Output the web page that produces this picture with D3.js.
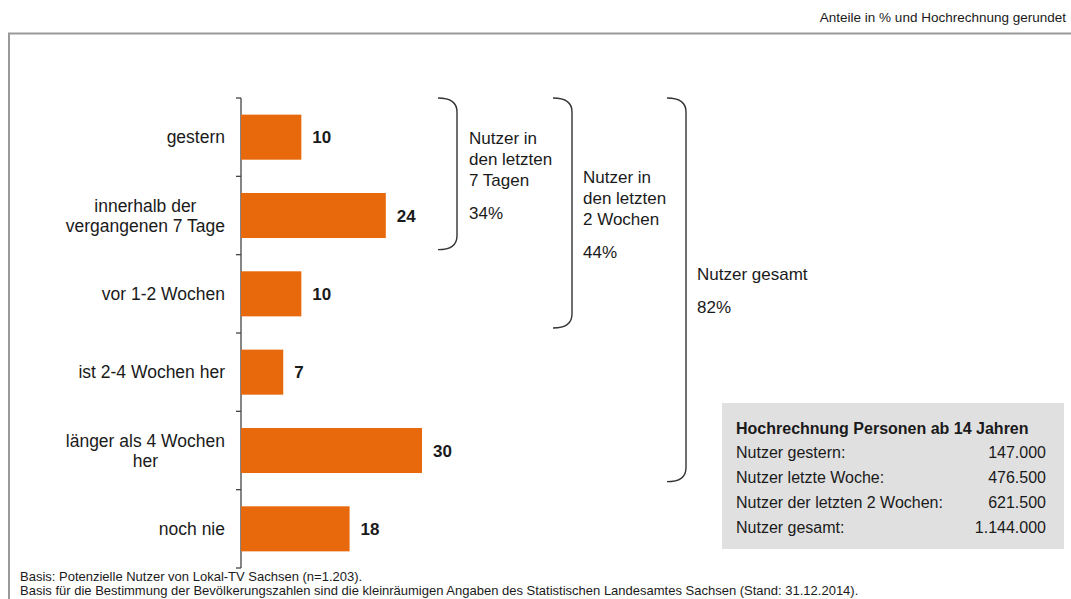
<!DOCTYPE html>
<html>
<head>
<meta charset="utf-8">
<script src="https://cdn.jsdelivr.net/npm/d3@7"></script>
<style>
  html, body { margin: 0; padding: 0; background: #fff; }
  svg { display: block; font-family: "Liberation Sans", Arial, sans-serif; }
</style>
</head>
<body>
<svg id="chart" width="1071" height="599"></svg>
<script>
// Nutzungsfrequenz Lokal-TV Sachsen
const categories = [
  ["gestern"],
  ["innerhalb der", "vergangenen 7 Tage"],
  ["vor 1-2 Wochen"],
  ["ist 2-4 Wochen her"],
  ["länger als 4 Wochen", "her"],
  ["noch nie"]
];
const values = [10, 24, 10, 7, 30, 18];

// Klammern: Anzahl der zusammengefassten Kategorien, Beschriftung, Anteil
const groupCounts = [2, 3, 5];
const groupLabels = [
  ["Nutzer in", "den letzten", "7 Tagen"],
  ["Nutzer in", "den letzten", "2 Wochen"],
  ["Nutzer gesamt"]
];
const groupShares = ["34%", "44%", "82%"];

// Hochrechnung
const boxTitle = "Hochrechnung Personen ab 14 Jahren";
const boxRows = ["Nutzer gestern:", "Nutzer letzte Woche:", "Nutzer der letzten 2 Wochen:", "Nutzer gesamt:"];
const boxValues = ["147.000", "476.500", "621.500", "1.144.000"];

const noteText = "Anteile in % und Hochrechnung gerundet";
const footnotes = [
  "Basis: Potenzielle Nutzer von Lokal-TV Sachsen (n=1.203).",
  "Basis für die Bestimmung der Bevölkerungszahlen sind die kleinräumigen Angaben des Statistischen Landesamtes Sachsen (Stand: 31.12.2014)."
];

const svg = d3.select("#chart");
const ORANGE = "#e8690c";
const TEXT = "#1a1a1a";

// Rahmen
svg.append("path")
  .attr("d", "M9,599 V33.5 H1071")
  .attr("fill", "none")
  .attr("stroke", "#9a9a9a")
  .attr("stroke-width", 2);

svg.append("text")
  .attr("x", 1066).attr("y", 22)
  .attr("text-anchor", "end")
  .attr("font-size", 13.5)
  .attr("fill", TEXT)
  .text(noteText);

// Skalen
const idx = d3.range(categories.length);
const y = d3.scaleBand()
  .domain(idx)
  .range([98, 568])
  .paddingInner(0.425)
  .paddingOuter(0.2125);
const x = d3.scaleLinear().domain([0, 30]).range([241, 422]);

const g = svg.append("g");

// Achse
g.append("line")
  .attr("x1", x(0)).attr("x2", x(0))
  .attr("y1", y.range()[0]).attr("y2", y.range()[1])
  .attr("stroke", "#444").attr("stroke-width", 1.3);
g.selectAll("line.tick")
  .data(d3.range(categories.length + 1))
  .join("line")
  .attr("class", "tick")
  .attr("x1", x(0) - 5).attr("x2", x(0))
  .attr("y1", i => y.range()[0] + i * y.step())
  .attr("y2", i => y.range()[0] + i * y.step())
  .attr("stroke", "#444").attr("stroke-width", 1.3);

// Balken
g.selectAll("rect.bar")
  .data(values)
  .join("rect")
  .attr("class", "bar")
  .attr("x", x(0))
  .attr("y", (d, i) => y(i))
  .attr("width", d => x(d) - x(0))
  .attr("height", y.bandwidth())
  .attr("fill", ORANGE);

// Werte
g.selectAll("text.val")
  .data(values)
  .join("text")
  .attr("class", "val")
  .attr("x", d => x(d) + 11)
  .attr("y", (d, i) => y(i) + y.bandwidth() / 2)
  .attr("dy", "0.36em")
  .attr("font-size", 17)
  .attr("font-weight", "bold")
  .attr("fill", TEXT)
  .text(d => d);

// Kategorien: Zeilen zentriert, Block rechtsbündig an der Achse
const lineH = 20.5;
const labelRight = 225;
g.selectAll("text.cat")
  .data(categories)
  .join("text")
  .attr("class", "cat")
  .attr("text-anchor", "middle")
  .attr("font-size", 17.5)
  .attr("fill", TEXT)
  .each(function(lines, i) {
    const cy = y(i) + y.bandwidth() / 2;
    const y0 = cy - (lines.length - 1) * lineH / 2;
    const sel = d3.select(this);
    const spans = sel.selectAll("tspan")
      .data(lines)
      .join("tspan")
      .attr("y", (l, j) => y0 + j * lineH)
      .attr("dy", "0.36em")
      .text(l => l);
    let maxW = 0;
    spans.each(function() { maxW = Math.max(maxW, this.getComputedTextLength()); });
    spans.attr("x", labelRight - maxW / 2);
  });

// Klammern
const bracketX = [438, 553, 667];
const bracketW = 19;
const bracketGap = [5, 5, 8];
const textX = [469, 583, 697];
const textTop = [138, 177, 274];

groupCounts.forEach((n, k) => {
  const top = y.range()[0];
  const bottom = y.range()[0] + n * y.step() - bracketGap[k];
  const x0 = bracketX[k], x1 = x0 + bracketW, r = 14;
  g.append("path")
    .attr("d", `M${x0},${top} Q${x1},${top} ${x1},${top + r} V${bottom - r} Q${x1},${bottom} ${x0},${bottom}`)
    .attr("fill", "none")
    .attr("stroke", "#333")
    .attr("stroke-width", 1.4);

  const t = g.append("text")
    .attr("font-size", 17)
    .attr("fill", TEXT);
  groupLabels[k].forEach((l, j) => {
    t.append("tspan")
      .attr("x", textX[k])
      .attr("y", textTop[k] + j * 21)
      .attr("dy", "0.36em")
      .text(l);
  });
  g.append("text")
    .attr("x", textX[k])
    .attr("y", textTop[k] + (groupLabels[k].length - 1) * 21 + 33)
    .attr("dy", "0.36em")
    .attr("font-size", 17)
    .attr("fill", TEXT)
    .text(groupShares[k]);
});

// Hochrechnungsbox
const box = svg.append("g");
box.append("rect")
  .attr("x", 722).attr("y", 403)
  .attr("width", 342).attr("height", 146)
  .attr("fill", "#e0e0e0");
box.append("text")
  .attr("x", 736).attr("y", 428)
  .attr("dy", "0.36em")
  .attr("font-size", 16)
  .attr("font-weight", "bold")
  .attr("fill", TEXT)
  .text(boxTitle);
boxRows.forEach((r, i) => {
  box.append("text")
    .attr("x", 736).attr("y", 452 + i * 25)
    .attr("dy", "0.36em")
    .attr("font-size", 16)
    .attr("fill", TEXT)
    .text(r);
  box.append("text")
    .attr("x", 1046).attr("y", 452 + i * 25)
    .attr("dy", "0.36em")
    .attr("text-anchor", "end")
    .attr("font-size", 16)
    .attr("fill", TEXT)
    .text(boxValues[i]);
});

// Fußnoten
footnotes.forEach((f, i) => {
  svg.append("text")
    .attr("x", 20).attr("y", 576 + i * 14)
    .attr("dy", "0.36em")
    .attr("font-size", 13)
    .attr("fill", TEXT)
    .text(f);
});
</script>
</body>
</html>
